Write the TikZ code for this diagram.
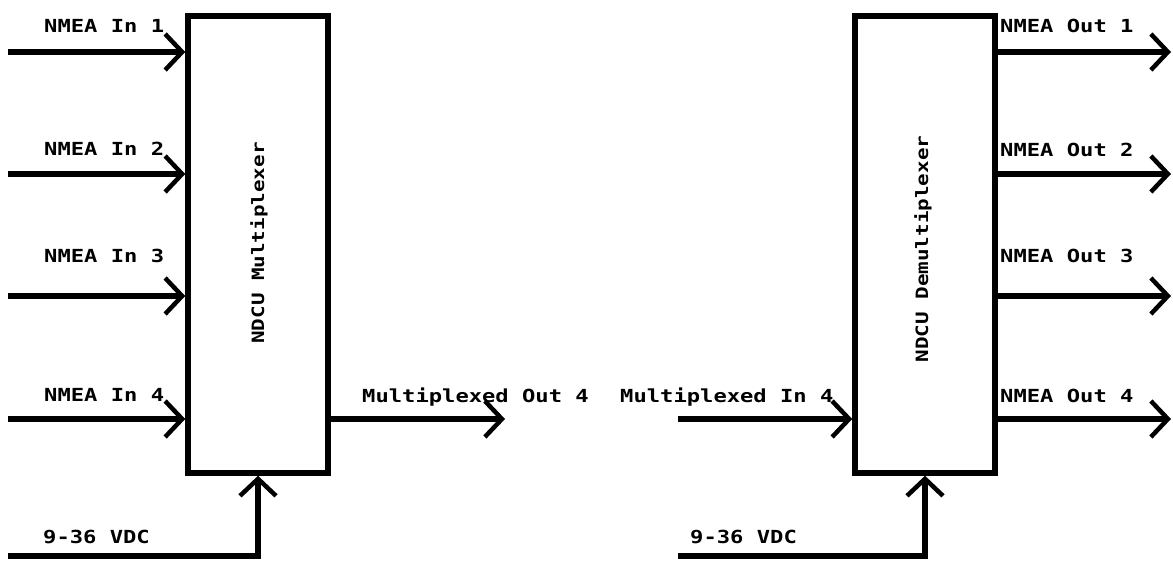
\documentclass[tikz,border=0pt]{standalone}
\usepackage{fontspec}
\newfontfamily\pix[FakeStretch=1.23]{DejaVu Sans Mono Bold}
\newfontfamily\pixv[FakeStretch=1.23]{DejaVu Sans Mono Bold}
\usetikzlibrary{arrows.meta}
\begin{document}
\begin{tikzpicture}[x=1pt,y=-1pt,
  box/.style={draw,line width=5.5pt,minimum width=140pt,minimum height=457pt,inner sep=0pt},
  wire/.style={line width=5.5pt},
  arr/.style={wire,-{Straight Barb[length=17pt,width=36pt,line width=4.5pt]}},
  lbl/.style={anchor=base west,inner sep=0pt,font=\pix\fontsize{18pt}{21pt}\selectfont},
  vlbl/.style={rotate=90,inner sep=0pt,font=\pixv\fontsize{17pt}{20pt}\selectfont}]
\useasboundingbox (0,0) rectangle (1173,561);
% boxes
\node[box] (mux) at (258,244.5) {};
\node[box] (demux) at (925,244.5) {};
\node[vlbl] (muxt) at (259,243) {NDCU Multiplexer};
\node[vlbl] (demuxt) at (923,249) {NDCU Demultiplexer};
% free ends
\coordinate (i1) at (8,52);
\coordinate (i2) at (8,174);
\coordinate (i3) at (8,296);
\coordinate (i4) at (8,419);
\coordinate (p1) at (8,556);
\coordinate (mo) at (505,419);
\coordinate (mi) at (678,419);
\coordinate (p2) at (678,556);
\coordinate (o1) at (1171,52);
\coordinate (o2) at (1171,174);
\coordinate (o3) at (1171,296);
\coordinate (o4) at (1171,419);
% connectors
\draw[arr] (i1) -- (mux.west |- i1);
\draw[arr] (i2) -- (mux.west |- i2);
\draw[arr] (i3) -- (mux.west |- i3);
\draw[arr] (i4) -- (mux.west |- i4);
\draw[arr] (p1) -| (mux.south);
\draw[arr] (mux.east |- mo) -- (mo);
\draw[arr] (mi) -- (demux.west |- mi);
\draw[arr] (p2) -| (demux.south);
\draw[arr] (demux.east |- o1) -- (o1);
\draw[arr] (demux.east |- o2) -- (o2);
\draw[arr] (demux.east |- o3) -- (o3);
\draw[arr] (demux.east |- o4) -- (o4);
% labels
\node[lbl] (l1) at (44,33) {NMEA In 1};
\node[lbl] (l2) at (44,156) {NMEA In 2};
\node[lbl] (l3) at (44,263) {NMEA In 3};
\node[lbl] (l4) at (44,401) {NMEA In 4};
\node[lbl] (lp1) at (43,543) {9-36 VDC};
\node[lbl] (lmo) at (362,402) {Multiplexed Out 4};
\node[lbl] (lmi) at (620,402) {Multiplexed In 4};
\node[lbl] (lp2) at (690,543) {9-36 VDC};
\node[lbl] (lo1) at (1000,33) {NMEA Out 1};
\node[lbl] (lo2) at (1000,157) {NMEA Out 2};
\node[lbl] (lo3) at (1000,263) {NMEA Out 3};
\node[lbl] (lo4) at (1000,402) {NMEA Out 4};
\end{tikzpicture}
\end{document}
